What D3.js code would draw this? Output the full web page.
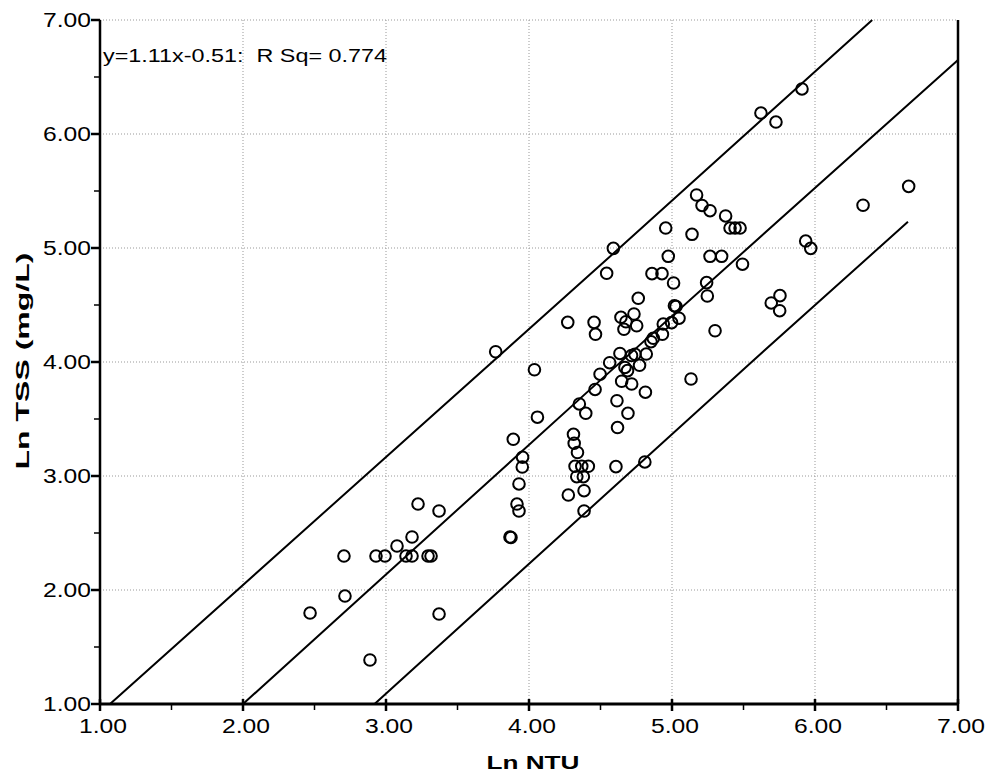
<!DOCTYPE html>
<html>
<head>
<meta charset="utf-8">
<script src="https://cdn.jsdelivr.net/npm/d3@7"></script>
<style>
  html, body { margin: 0; padding: 0; background: #fff; }
  svg { display: block; }
  text { font-family: "Liberation Sans", Arial, sans-serif; fill: #000; }
</style>
</head>
<body>
<svg id="chart" width="986" height="779"></svg>
<script>
// ---- Data ----
const lnNTU = [
  5.909, 5.622, 5.727, 6.655, 6.336, 5.935, 5.970, 5.755, 5.694, 5.753,
  5.301, 5.133, 5.172, 5.210, 5.266, 5.375, 5.406, 5.441, 5.476, 5.493,
  4.956, 5.140, 4.590, 4.543, 4.974, 5.266, 5.347, 4.860, 4.930, 5.011,
  5.242, 5.247, 4.764, 5.017, 5.028, 5.049, 4.939, 4.997, 4.933, 4.869,
  4.853, 4.643, 4.734, 4.678, 4.664, 4.753, 4.271, 4.455, 4.465, 3.767,
  4.636, 4.717, 4.741, 4.820, 4.564, 4.671, 4.689, 4.773, 4.497, 4.648,
  4.718, 4.038, 4.462, 4.814, 4.615, 4.352, 4.397, 4.692, 4.059, 4.619,
  3.890, 4.311, 4.316, 4.339, 3.955, 3.953, 4.322, 4.369, 4.415, 4.334,
  4.380, 4.385, 4.275, 4.385, 4.608, 4.810, 3.930, 3.916, 3.930, 3.867,
  3.874, 3.224, 3.371, 3.182, 3.077, 2.706, 2.930, 2.993, 3.140, 3.182,
  3.294, 3.315, 2.713, 2.469, 3.371, 2.888
];
const lnTSS = [
  6.395, 6.184, 6.105, 5.541, 5.375, 5.061, 4.997, 4.582, 4.518, 4.450,
  4.274, 3.851, 5.465, 5.373, 5.327, 5.281, 5.175, 5.175, 5.175, 4.858,
  5.175, 5.120, 4.997, 4.778, 4.927, 4.927, 4.927, 4.775, 4.775, 4.693,
  4.696, 4.579, 4.559, 4.494, 4.487, 4.384, 4.333, 4.345, 4.243, 4.208,
  4.178, 4.392, 4.421, 4.353, 4.287, 4.318, 4.348, 4.348, 4.243, 4.090,
  4.075, 4.057, 4.068, 4.070, 3.994, 3.952, 3.924, 3.971, 3.893, 3.831,
  3.807, 3.932, 3.759, 3.735, 3.660, 3.632, 3.550, 3.550, 3.516, 3.425,
  3.322, 3.366, 3.287, 3.206, 3.165, 3.079, 3.085, 3.085, 3.085, 2.994,
  2.994, 2.871, 2.833, 2.693, 3.082, 3.123, 2.930, 2.754, 2.693, 2.465,
  2.461, 2.754, 2.693, 2.465, 2.386, 2.298, 2.298, 2.298, 2.298, 2.298,
  2.298, 2.298, 1.947, 1.798, 1.789, 1.386
];
// Fit line and prediction bands (x, y pairs)
const upperBand = [[1.07, 1.00], [4.50, 4.85], [6.40, 7.00]];
const fitLine   = [[2.00, 1.00], [4.49, 3.83], [7.00, 6.65]];
const lowerBand = [[2.92, 1.00], [5.53, 3.97], [6.65, 5.23]];

const majorTicks = [1, 2, 3, 4, 5, 6, 7];
const minorTicks = [1.5, 2.5, 3.5, 4.5, 5.5, 6.5];
const tickLabels = ["1.00", "2.00", "3.00", "4.00", "5.00", "6.00", "7.00"];
const xTitle = "Ln NTU";
const yTitle = "Ln TSS (mg/L)";
const fitLabel = "y=1.11x-0.51:  R Sq= 0.774";

// ---- Layout ----
const svg = d3.select("#chart");
const x = d3.scaleLinear().domain([1, 7]).range([100, 958]);
const y = d3.scaleLinear().domain([1, 7]).range([704, 20]);

// gridlines (dotted)
const grid = svg.append("g");
grid.selectAll("line.gx").data(majorTicks.slice(1, -1)).join("line")
  .attr("x1", d => x(d)).attr("x2", d => x(d))
  .attr("y1", y(7)).attr("y2", y(1))
  .attr("stroke", "#999").attr("stroke-width", 1).attr("stroke-dasharray", "1,2");
grid.selectAll("line.gy").data(majorTicks.slice(1)).join("line")
  .attr("x1", x(1)).attr("x2", x(7))
  .attr("y1", d => y(d)).attr("y2", d => y(d))
  .attr("stroke", "#999").attr("stroke-width", 1).attr("stroke-dasharray", "1,2");

// frame: left, bottom, right solid
svg.append("line").attr("x1", x(1)).attr("x2", x(1)).attr("y1", y(7)).attr("y2", y(1))
  .attr("stroke", "#000").attr("stroke-width", 2.5);
svg.append("line").attr("x1", x(1)).attr("x2", x(7)).attr("y1", y(1)).attr("y2", y(1))
  .attr("stroke", "#000").attr("stroke-width", 3);
svg.append("line").attr("x1", x(7)).attr("x2", x(7)).attr("y1", y(7)).attr("y2", y(1))
  .attr("stroke", "#000").attr("stroke-width", 2.5);

// Y axis ticks and labels
const yAx = svg.append("g");
yAx.selectAll("line.maj").data(majorTicks).join("line")
  .attr("x1", x(1) - 9).attr("x2", x(1))
  .attr("y1", d => y(d)).attr("y2", d => y(d))
  .attr("stroke", "#000").attr("stroke-width", 2.5);
yAx.selectAll("line.min").data(minorTicks).join("line")
  .attr("class", "min")
  .attr("x1", x(1) - 6).attr("x2", x(1))
  .attr("y1", d => y(d)).attr("y2", d => y(d))
  .attr("stroke", "#000").attr("stroke-width", 1.5);
yAx.selectAll("text").data(majorTicks).join("text")
  .attr("x", x(1) - 9).attr("y", d => y(d) + 7)
  .attr("text-anchor", "end")
  .attr("font-size", 20)
  .attr("textLength", 48).attr("lengthAdjust", "spacingAndGlyphs")
  .text((d, i) => tickLabels[i]);

// X axis ticks and labels
const xAx = svg.append("g");
xAx.selectAll("line.maj").data(majorTicks).join("line")
  .attr("x1", d => x(d)).attr("x2", d => x(d))
  .attr("y1", y(1) - 5).attr("y2", y(1) + 7)
  .attr("stroke", "#000").attr("stroke-width", 2.5);
xAx.selectAll("line.min").data(minorTicks).join("line")
  .attr("class", "min")
  .attr("x1", d => x(d)).attr("x2", d => x(d))
  .attr("y1", y(1)).attr("y2", y(1) + 6)
  .attr("stroke", "#000").attr("stroke-width", 1.5);
xAx.selectAll("text").data(majorTicks).join("text")
  .attr("x", d => x(d) + 3).attr("y", y(1) + 29)
  .attr("text-anchor", "middle")
  .attr("font-size", 20)
  .attr("textLength", 48).attr("lengthAdjust", "spacingAndGlyphs")
  .text((d, i) => tickLabels[i]);

// Axis titles
svg.append("text")
  .attr("x", 533).attr("y", 769)
  .attr("text-anchor", "middle")
  .attr("font-size", 19).attr("font-weight", "bold")
  .attr("textLength", 93).attr("lengthAdjust", "spacingAndGlyphs")
  .text(xTitle);
svg.append("text")
  .attr("transform", "translate(29,361) rotate(-90)")
  .attr("text-anchor", "middle")
  .attr("font-size", 19).attr("font-weight", "bold")
  .attr("textLength", 217).attr("lengthAdjust", "spacingAndGlyphs")
  .text(yTitle);

// fit label
svg.append("text")
  .attr("x", 103).attr("y", 62)
  .attr("font-size", 19)
  .attr("xml:space", "preserve")
  .style("white-space", "pre")
  .attr("textLength", 284).attr("lengthAdjust", "spacingAndGlyphs")
  .text(fitLabel);

// lines
const line = d3.line().x(d => x(d[0])).y(d => y(d[1]));
[upperBand, fitLine, lowerBand].forEach(pts => {
  svg.append("path").attr("d", line(pts))
    .attr("fill", "none").attr("stroke", "#000").attr("stroke-width", 2);
});

// points
const pts = lnNTU.map((v, i) => ({ x: v, y: lnTSS[i] }));
svg.append("g").selectAll("circle").data(pts).join("circle")
  .attr("cx", d => x(d.x)).attr("cy", d => y(d.y))
  .attr("r", 5.8)
  .attr("fill", "none").attr("stroke", "#000").attr("stroke-width", 2);
</script>
</body>
</html>
